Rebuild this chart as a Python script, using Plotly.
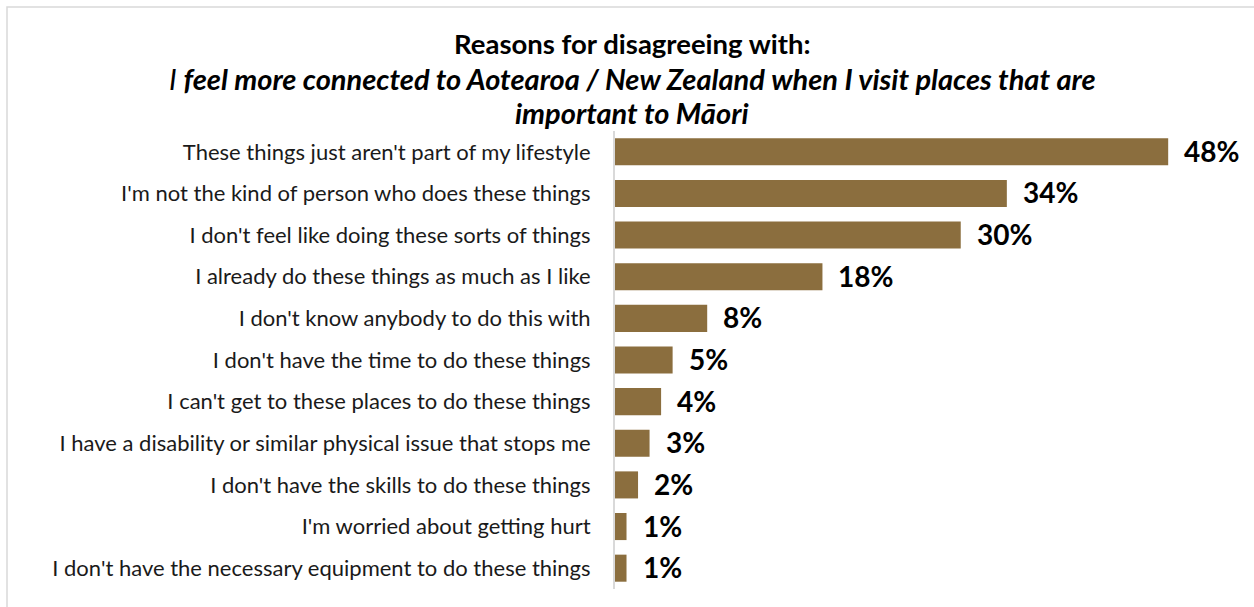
import plotly.graph_objects as go

# Survey responses: share of respondents giving each reason (%)
reasons = [
    "These things just aren't part of my lifestyle",
    "I'm not the kind of person who does these things",
    "I don't feel like doing these sorts of things",
    "I already do these things as much as I like",
    "I don't know anybody to do this with",
    "I don't have the time to do these things",
    "I can't get to these places to do these things",
    "I have a disability or similar physical issue that stops me",
    "I don't have the skills to do these things",
    "I'm worried about getting hurt",
    "I don't have the necessary equipment to do these things",
]
shares = [48, 34, 30, 18, 8, 5, 4, 3, 2, 1, 1]

title_lines = [
    "<b>Reasons for disagreeing with:</b>",
    "<i>I <b>feel more connected to Aotearoa / New Zealand when I visit places that are</b></i>",
    "<b><i>important to Māori</i></b>",
]

W, H = 1254, 607
ML, MR, MT, MB = 615, 57, 131, 18
X_MAX = 50.5
BAR_COLOR = "#8B6E3E"
FONT = "Lato"

fig = go.Figure(
    go.Bar(
        x=shares,
        y=reasons,
        orientation="h",
        marker=dict(color=BAR_COLOR, line=dict(width=0)),
        hoverinfo="x+y",
    )
)

# value labels to the right of each bar
for r, v in zip(reasons, shares):
    fig.add_annotation(
        x=v, y=r, xref="x", yref="y",
        text=f"<b>{v}%</b>", showarrow=False,
        xanchor="left", yanchor="middle", xshift=14, yshift=1,
        font=dict(family=FONT, size=28, color="#000000"),
    )

pw = W - ML - MR
ph = H - MT - MB

# three-line heading centred on the canvas, each line at its own pixel height
for line, ypx, size in zip(title_lines, [43, 78, 112], [27.5, 29, 29]):
    fig.add_annotation(
        x=(W / 2 + 5 - ML) / pw, y=1, xref="paper", yref="paper",
        text=line, showarrow=False,
        xanchor="center", yanchor="middle", yshift=MT - ypx,
        font=dict(family=FONT, size=size, color="#000000"),
    )

# thin grey frame around the whole chart (left and top edges visible)
fig.add_shape(
    type="rect", xref="paper", yref="paper",
    x0=(7 - ML) / pw, x1=(W + 20 - ML) / pw,
    y0=-(H + 20 - MT - ph) / ph, y1=(H - 7 - MB) / ph,
    line=dict(color="#d9d9d9", width=1.5), fillcolor="rgba(0,0,0,0)",
    layer="below",
)

fig.update_layout(
    width=W, height=H,
    margin=dict(l=ML, r=MR, t=MT, b=MB, pad=0),
    paper_bgcolor="white", plot_bgcolor="white",
    bargap=0.35,
    showlegend=False,
    font=dict(family=FONT, color="#000000"),
    xaxis=dict(
        range=[0, X_MAX], visible=False, showgrid=False, zeroline=False, fixedrange=True,
    ),
    yaxis=dict(
        autorange="reversed",
        showgrid=False, zeroline=False,
        showline=True, linecolor="#d9d9d9", linewidth=2,
        ticks="", ticklabelstandoff=18,
        tickfont=dict(family=FONT, size=22, color="#1a1a1a"),
        fixedrange=True,
    ),
)

fig.write_html("out.html")
